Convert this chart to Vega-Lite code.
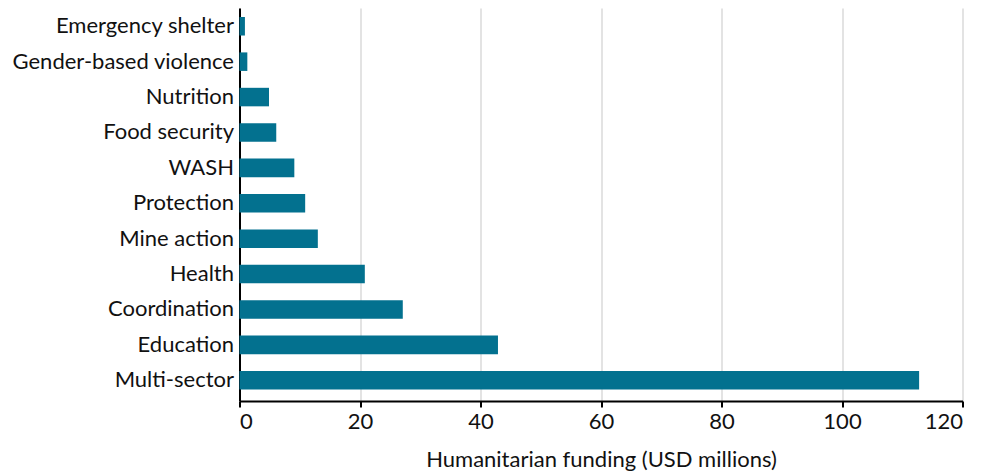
{
  "$schema": "https://vega.github.io/schema/vega-lite/v6.json",
  "autosize": {"type": "none"},
  "padding": {"left": 239.5, "top": 8, "right": 18.5, "bottom": 72},
  "width": 723,
  "height": 393,
  "background": "white",
  "data": {
    "values": [
      {"sector": "Emergency shelter", "funding": 0.9},
      {"sector": "Gender-based violence", "funding": 1.3},
      {"sector": "Nutrition", "funding": 4.9},
      {"sector": "Food security", "funding": 6.1},
      {"sector": "WASH", "funding": 9.1},
      {"sector": "Protection", "funding": 10.9},
      {"sector": "Mine action", "funding": 13.0},
      {"sector": "Health", "funding": 20.8},
      {"sector": "Coordination", "funding": 27.1},
      {"sector": "Education", "funding": 42.9},
      {"sector": "Multi-sector", "funding": 112.8}
    ]
  },
  "mark": {"type": "bar", "color": "#03718f"},
  "encoding": {
    "y": {
      "field": "sector",
      "type": "nominal",
      "sort": {"field": "funding", "order": "ascending"},
      "scale": {"paddingInner": 0.477, "paddingOuter": 0.289, "align": 0.44},
      "axis": {
        "title": null,
        "ticks": false,
        "labelPadding": 6,
        "labelLimit": 400,
        "labelFont": "Lato",
        "labelFontSize": 22,
        "labelColor": "#111111",
        "domainColor": "#000000",
        "domainWidth": 2,
        "grid": false
      }
    },
    "x": {
      "field": "funding",
      "type": "quantitative",
      "scale": {"domain": [0, 120], "nice": false},
      "axis": {
        "values": [0, 20, 40, 60, 80, 100, 120],
        "title": "Humanitarian funding (USD millions)",
        "titleFont": "Lato",
        "titleFontSize": 22,
        "titleFontWeight": "normal",
        "titleColor": "#111111",
        "titlePadding": 17,
        "labelFont": "Lato",
        "labelFontSize": 22,
        "labelColor": "#111111",
        "labelPadding": 4,
        "tickColor": "#000000",
        "tickWidth": 2,
        "tickSize": 6,
        "domainColor": "#000000",
        "domainWidth": 2,
        "grid": true,
        "gridColor": "#e3e3e3",
        "gridWidth": 2
      }
    }
  },
  "config": {"view": {"stroke": null}}
}
